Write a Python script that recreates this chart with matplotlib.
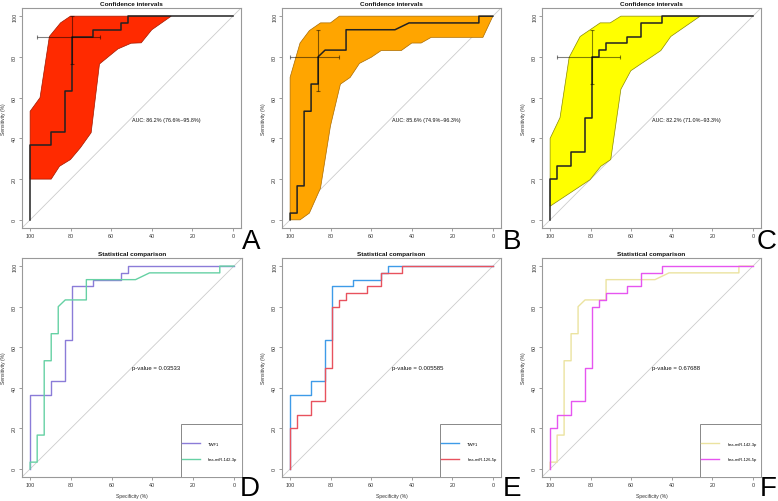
import matplotlib
matplotlib.use("Agg")
import matplotlib.pyplot as plt
from matplotlib.lines import Line2D
from matplotlib.patches import Rectangle

plt.rcParams['font.family'] = ['Liberation Sans', 'DejaVu Sans']

# ---------------- data ----------------
ticks = [0, 20, 40, 60, 80, 100]

twf1_spec = [100, 100, 89.66, 89.66, 82.76, 82.76, 79.31, 79.31, 68.97, 68.97, 55.17, 55.17, 51.72, 51.72, 0]
twf1_sens = [0, 36.67, 36.67, 43.33, 43.33, 63.33, 63.33, 90, 90, 93.33, 93.33, 96.67, 96.67, 100, 100]

mir142_spec = [100, 100, 96.55, 96.55, 93.10, 93.10, 89.66, 89.66, 86.21, 86.21, 82.76, 72.41, 72.41, 48.28, 41.38, 6.90, 6.90, 0]
mir142_sens = [0, 3.33, 3.33, 16.67, 16.67, 53.33, 53.33, 66.67, 66.67, 80, 83.33, 83.33, 93.33, 93.33, 96.67, 96.67, 100, 100]

mir126_spec = [100, 100, 96.55, 96.55, 89.66, 89.66, 82.76, 82.76, 79.31, 79.31, 75.86, 75.86, 72.41, 72.41,
               62.07, 62.07, 55.17, 55.17, 44.83, 44.83, 0]
mir126_sens = [0, 20, 20, 26.67, 26.67, 33.33, 33.33, 50, 50, 80, 80, 83.33, 83.33, 86.67,
               86.67, 90, 90, 96.67, 96.67, 100, 100]

# confidence-interval bands (specificity, sensitivity)
ci_a_spec = [100, 100, 95.1, 90.5, 85.0, 80.1, 30.4, 40.0, 45.2, 50.2, 56.7, 65.8, 69.9, 75.2, 80.1, 85.5, 89.6]
ci_a_sens = [20, 53.3, 60, 90, 96.7, 100, 100, 93.3, 86.9, 86.7, 83.9, 76.5, 42.8, 35.4, 29.6, 26.3, 20]

ci_b_spec = [100, 100, 95.1, 90.5, 85.0, 80.1, 75.7, 0, 4.9, 30.4, 35.4, 40.0, 45.2, 55.1, 60.0, 65.8, 70.4,
             75.2, 80.1, 85.0, 90.5, 95.1]
ci_b_sens = [0, 70, 86.8, 92.9, 96.7, 96.7, 100, 100, 89.6, 89.6, 86.8, 86.8, 83.1, 83.1, 79.8, 76.8, 69.9,
             66.6, 46.1, 15.6, 3.3, 0]

ci_c_spec = [100, 100, 95.1, 90.6, 85.2, 80.3, 75.3, 70.4, 65.1, 26.0, 40.5, 45.4, 50.3, 55.3, 60.2, 65.1,
             70.1, 75.0, 80.3]
ci_c_sens = [6.7, 40, 50.2, 79.8, 90.0, 93.3, 96.7, 96.7, 100, 100, 90.0, 83.1, 79.8, 76.5, 73.2, 64.1,
             29.6, 26.3, 19.7]

# threshold CI crosses: centre (spec, sens), spec CI, sens CI
cross_a = (79.31, 90.0, (93.3, 62.1), (76.7, 100.0))
cross_b = (86.21, 80.0, (96.6, 72.4), (63.3, 93.3))
cross_c = (79.31, 80.0, (93.1, 62.1), (66.7, 93.3))

auc_labels = ["AUC: 86.2% (76.6%\u201395.8%)", "AUC: 85.6% (74.9%\u201396.3%)", "AUC: 82.2% (71.0%\u201393.3%)"]
p_labels = ["p-value = 0.03533", "p-value = 0.005585", "p-value = 0.67688"]
panel_letters = ["A", "B", "C", "D", "E", "F"]

# ---------------- figure ----------------
W, H = 778, 502
fig = plt.figure(figsize=(W / 100, H / 100), dpi=100)


def add_ax(l, t, r, b):
    return fig.add_axes([l / W, 1 - b / H, (r - l) / W, (b - t) / H])


def style(ax, title, xlabel=True):
    ax.set_xlim(104, -4)
    ax.set_ylim(-4, 104)
    ax.set_xticks(ticks)
    ax.set_yticks(ticks)
    ax.tick_params(length=2, width=0.5, color='#777777', labelsize=3.9, pad=1.5, labelcolor='#333333')
    ax.tick_params(axis='y', labelrotation=90)
    for lab in ax.get_yticklabels():
        lab.set_va('center')
    for s in ax.spines.values():
        s.set_color('#999999')
        s.set_linewidth(0.8)
    ax.set_title(title, fontsize=4.6, fontweight='bold', pad=2.5, color='#111111')
    ax.set_ylabel("Sensitivity (%)", fontsize=3.6, color='#333333')
    ax.yaxis.set_label_coords(-0.072, 0.5)
    if xlabel:
        ax.set_xlabel("Specificity (%)", fontsize=3.6, color='#333333')
        ax.xaxis.set_label_coords(0.5, -0.075)
    ax.axline((100, 0), (0, 100), color='#cccccc', lw=0.6, zorder=1)


boxes_top = [(22, 9, 241, 229), (282, 9, 501, 229), (542, 9, 761, 229)]
boxes_bot = [(22, 259, 242, 478), (282, 259, 501, 478), (542, 259, 761, 478)]

fills = ['#FF2A00', '#FFA500', '#FFFF00']
edges = ['#a01800', '#a86a00', '#8a8a00']
cis = [(ci_a_spec, ci_a_sens), (ci_b_spec, ci_b_sens), (ci_c_spec, ci_c_sens)]
curves_top = [(twf1_spec, twf1_sens), (mir142_spec, mir142_sens), (mir126_spec, mir126_sens)]
crosses = [cross_a, cross_b, cross_c]

for i in range(3):
    ax = add_ax(*boxes_top[i])
    style(ax, "Confidence intervals", xlabel=False)
    cs, cse = cis[i]
    ax.fill(cs, cse, facecolor=fills[i], edgecolor=edges[i], lw=0.5, zorder=2)
    sp, se = curves_top[i]
    ax.plot(sp, se, color='#222222', lw=1.1, zorder=3)
    cx, cy, (x_hi, x_lo), (y_lo, y_hi) = crosses[i]
    ax.errorbar([cx], [cy], xerr=[[x_hi - cx], [cx - x_lo]], yerr=[[cy - y_lo], [y_hi - cy]],
                fmt='none', ecolor='black', alpha=0.5, elinewidth=0.8, capsize=1.5, capthick=0.8, zorder=4)
    ax.text(50, 50.5, auc_labels[i], fontsize=3.9, ha='left', va='top', color='#111111', zorder=5)

pairs = [
    ((twf1_spec, twf1_sens, 'TWF1', '#8b7cd8'), (mir142_spec, mir142_sens, 'has-miR-142-3p', '#66d1a4')),
    ((twf1_spec, twf1_sens, 'TWF1', '#3e9be8'), (mir126_spec, mir126_sens, 'has-miR-126-5p', '#e8525e')),
    ((mir142_spec, mir142_sens, 'has-miR-142-3p', '#ebe3a0'), (mir126_spec, mir126_sens, 'has-miR-126-5p', '#e655f0')),
]

for i in range(3):
    ax = add_ax(*boxes_bot[i])
    style(ax, "Statistical comparison", xlabel=True)
    handles = []
    for sp, se, lab, col in pairs[i]:
        ax.plot(sp, se, color=col, lw=1.0, zorder=3)
        handles.append(Line2D([], [], color=col, lw=1.0, label=lab))
    ax.text(50, 50, p_labels[i], fontsize=4.3, ha='left', va='center', color='#111111')
    # legend frame (left and top edges visible inside the axes)
    ax.add_patch(Rectangle((0.723, 0.0), 0.30, 0.242, transform=ax.transAxes, facecolor='white',
                           edgecolor='#888888', lw=0.7, zorder=5, clip_on=True))
    leg = ax.legend(handles=handles, loc='lower left', bbox_to_anchor=(0.728, 0.072), borderaxespad=0,
                    fontsize=3.0, frameon=False, handlelength=4.3, handletextpad=1.9,
                    labelspacing=2.8, borderpad=0)
    leg.set_zorder(6)

letter_pos = [(251, 249, 'center'), (512, 249, 'center'), (777, 249, 'right'),
              (250, 496, 'center'), (512, 496, 'center'), (777, 496, 'right')]
for (x, y, ha), L in zip(letter_pos, panel_letters):
    fig.text(x / W, 1 - y / H, L, fontsize=20, ha=ha, va='baseline', color='black')

fig.savefig("out.png", dpi=100)
